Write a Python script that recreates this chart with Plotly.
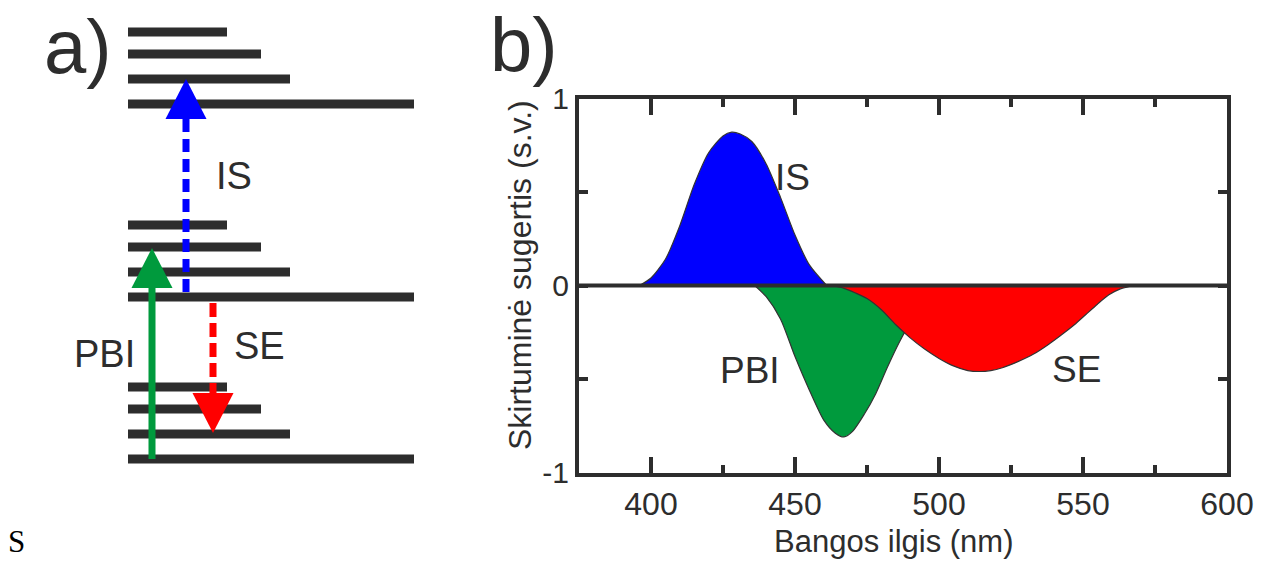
import plotly.graph_objects as go

# ---------------- panel b: transient absorption bands ----------------
is_nm = [396, 400, 405, 410, 415, 420, 425, 428, 431, 435, 440, 445, 450, 455, 461]
is_val = [0.0, 0.04, 0.14, 0.32, 0.54, 0.71, 0.80, 0.82, 0.81, 0.77, 0.65, 0.47, 0.27, 0.11, 0.0]

pbi_nm = [436, 440, 445, 450, 455, 460, 464, 467, 470, 474, 478, 482, 486, 490, 495, 500, 505]
pbi_val = [0.0, -0.06, -0.18, -0.38, -0.56, -0.72, -0.79, -0.81, -0.78, -0.69, -0.58, -0.44, -0.31,
           -0.20, -0.10, -0.04, 0.0]

se_nm = [463, 467, 471, 475, 480, 485, 490, 495, 500, 505, 510, 514, 518, 522, 527, 533, 538, 542,
         547, 551, 555, 559, 563, 568]
se_val = [0.0, -0.015, -0.04, -0.07, -0.13, -0.21, -0.28, -0.34, -0.39, -0.43, -0.455, -0.46, -0.455,
          -0.44, -0.41, -0.365, -0.315, -0.27, -0.21, -0.155, -0.10, -0.05, -0.018, 0.0]

x_ticks = [400, 450, 500, 550, 600]
x_minor = [425, 475, 525, 575]
y_ticks = [-1, -0.5, 0, 0.5, 1]
y_labels = ["-1", "", "0", "", "1"]

# ---------------- panel a: energy level scheme ----------------
state_base = [0, 162, 355]          # S0, S1, Sn
sub_offset = [0, 25, 50, 72]        # vibrational sublevels
sub_len = [286, 162, 133, 99]

# transitions: x position, start energy, tip energy, colour, dash
pbi_arrow = dict(x=24, start=0, tip=211, color="#009a3d", dash="solid")
is_arrow = dict(x=58, start=162, tip=380, color="#0000ff", dash="13px,7px")
se_arrow = dict(x=85, start=156, tip=26, color="#ff0000", dash="14px,6px")

INK = "#2d2d2d"
FONT = "Liberation Sans, Arial, sans-serif"
HEAD_LEN = 40
HEAD_W = 41

fig = go.Figure()

# energy levels as horizontal bars
lvl_y, lvl_x = [], []
for b in state_base:
    for off, ln in zip(sub_offset, sub_len):
        lvl_y.append(b + off)
        lvl_x.append(ln)
fig.add_trace(go.Bar(x=lvl_x, y=lvl_y, base=0, orientation="h", width=9,
                     marker=dict(color=INK, line=dict(width=0)),
                     xaxis="x2", yaxis="y2", showlegend=False, hoverinfo="skip"))

# transition arrows: shaft + triangular head
for a in (pbi_arrow, is_arrow, se_arrow):
    sgn = 1 if a["tip"] > a["start"] else -1
    base = a["tip"] - sgn * HEAD_LEN
    if sgn > 0 and a["dash"] != "solid":
        sy = [base, a["start"]]
    else:
        sy = [a["start"], base]
    fig.add_trace(go.Scatter(x=[a["x"], a["x"]], y=sy, mode="lines",
                             line=dict(color=a["color"], width=7, dash=a["dash"]),
                             xaxis="x2", yaxis="y2", showlegend=False, hoverinfo="skip"))
    fig.add_trace(go.Scatter(x=[a["x"] - HEAD_W / 2, a["x"] + HEAD_W / 2, a["x"], a["x"] - HEAD_W / 2],
                             y=[base, base, a["tip"], base], mode="lines", fill="toself",
                             fillcolor=a["color"], line=dict(width=0, color=a["color"]),
                             xaxis="x2", yaxis="y2", showlegend=False, hoverinfo="skip"))

# bands
for nm, val, col in ((is_nm, is_val, "#0000ff"), (pbi_nm, pbi_val, "#009a3d"), (se_nm, se_val, "#ff0000")):
    fig.add_trace(go.Scatter(x=nm, y=val, mode="lines", fill="tozeroy", fillcolor=col,
                             line=dict(color="#333333", width=1.2, shape="spline", smoothing=0.7),
                             showlegend=False, hoverinfo="skip"))

# zero baseline on top of the fills
fig.add_trace(go.Scatter(x=[375, 600], y=[0, 0], mode="lines", line=dict(color=INK, width=4),
                         showlegend=False, hoverinfo="skip"))

axis_common = dict(showgrid=False, zeroline=False, showline=True, linewidth=4, linecolor=INK,
                   mirror="ticks", ticks="inside", tickcolor=INK, tickwidth=4, automargin=False)

fig.update_layout(
    width=1276, height=561,
    autosize=False,
    margin=dict(l=0, r=0, t=0, b=0, pad=0, autoexpand=False),
    paper_bgcolor="white", plot_bgcolor="white",
    font=dict(family=FONT, color=INK),
    xaxis=dict(domain=[579 / 1276, 1227 / 1276], range=[375, 600], tickvals=x_ticks,
               ticklen=16, tickfont=dict(size=32, color=INK),
               minor=dict(tickvals=x_minor, ticks="inside", ticklen=8, tickwidth=4, tickcolor=INK),
               **axis_common),
    yaxis=dict(domain=[1 - 472.5 / 561, 1 - 98.5 / 561], range=[-1, 1], tickvals=y_ticks,
               ticktext=y_labels, ticklen=9, tickfont=dict(size=30, color=INK), **axis_common),
    xaxis2=dict(domain=[0, 430 / 1276], range=[-128, 302], visible=False, anchor="y2", automargin=False),
    yaxis2=dict(domain=[0, 1], range=[-102, 459], visible=False, anchor="x2", automargin=False),
    barmode="overlay",
)


def paper_text(t, px, py, size, family=FONT, color=INK, angle=0):
    return dict(text=t, x=px / 1276, y=1 - py / 561, xref="paper", yref="paper",
                xanchor="center", yanchor="middle", showarrow=False, textangle=angle,
                font=dict(size=size, color=color, family=family))


ann = [
    paper_text("a)", 78, 46, 76),
    paper_text("b)", 524, 45, 76),
    paper_text("Bangos ilgis (nm)", 893, 541, 31),
    paper_text("Skirtuminė sugertis (s.v.)", 520, 275, 32, angle=-90),
    paper_text("S", 16, 541, 31, family="Liberation Serif, Times New Roman, serif", color="black"),
]
# scheme labels
for t, x, y in (("IS", 106, 283), ("SE", 131, 113), ("PBI", -24, 105)):
    ann.append(dict(text=t, x=x, y=y, xref="x2", yref="y2", showarrow=False,
                    xanchor="center", yanchor="middle", font=dict(size=38, color=INK, family=FONT)))
# band labels
for t, x, y in (("IS", 449.3, 0.58), ("PBI", 434.4, -0.456), ("SE", 547.6, -0.45)):
    ann.append(dict(text=t, x=x, y=y, xref="x", yref="y", showarrow=False,
                    xanchor="center", yanchor="middle", font=dict(size=37, color=INK, family=FONT)))
fig.update_layout(annotations=ann)

fig.write_html("out.html")
